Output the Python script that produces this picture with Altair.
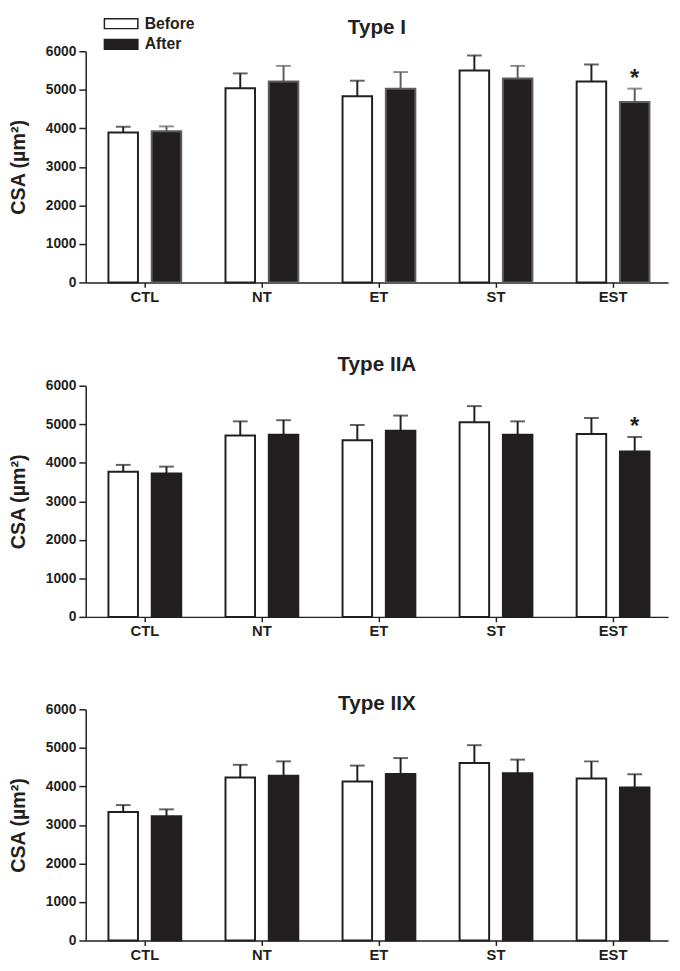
import altair as alt
import pandas as pd

groups = ["CTL", "NT", "ET", "ST", "EST"]
series = ["Before", "After"]
panel_titles = ["Type I", "Type IIA", "Type IIX"]

# Type I
typeI_before = [3890, 5040, 4830, 5500, 5215]
typeI_before_se = [150, 385, 405, 390, 440]
typeI_after = [3925, 5215, 5025, 5290, 4685]
typeI_after_se = [125, 405, 435, 330, 345]
typeI_sig = ["", "", "", "", "*"]

# Type IIA
typeIIA_before = [3765, 4705, 4585, 5050, 4745]
typeIIA_before_se = [180, 370, 395, 420, 415]
typeIIA_after = [3725, 4730, 4830, 4730, 4290]
typeIIA_after_se = [175, 375, 395, 345, 380]
typeIIA_sig = ["", "", "", "", "*"]

# Type IIX
typeIIX_before = [3335, 4230, 4130, 4610, 4205]
typeIIX_before_se = [180, 330, 410, 460, 445]
typeIIX_after = [3225, 4280, 4325, 4340, 3975]
typeIIX_after_se = [180, 370, 410, 355, 340]
typeIIX_sig = ["", "", "", "", ""]

panel_data = [
    (typeI_before, typeI_before_se, typeI_after, typeI_after_se, typeI_sig),
    (typeIIA_before, typeIIA_before_se, typeIIA_after, typeIIA_after_se, typeIIA_sig),
    (typeIIX_before, typeIIX_before_se, typeIIX_after, typeIIX_after_se, typeIIX_sig),
]

FONT = "Arial, Liberation Sans, sans-serif"
INK = "#231f20"


def make_df(b, bse, a, ase, sig):
    rows = []
    for i, g in enumerate(groups):
        rows.append(dict(group=g, series="Before", mean=b[i], upper=b[i] + bse[i], sig=""))
        rows.append(dict(group=g, series="After", mean=a[i], upper=a[i] + ase[i], sig=sig[i]))
    return pd.DataFrame(rows)


legend = alt.Legend(
    title=None,
    orient="none",
    legendX=28,
    legendY=-36,
    symbolType="M-3.4,-1H3.4V1H-3.4Z",
    symbolSize=100,
    symbolStrokeColor=INK,
    symbolStrokeWidth=1.5,
    labelFont=FONT,
    labelFontSize=16,
    labelFontWeight="bold",
    labelColor=INK,
    labelOffset=16,
    rowPadding=5,
    padding=0,
)


def panel(title, df, offset, after_stroke):
    x = alt.X(
        "group:N",
        sort=groups,
        scale=alt.Scale(paddingInner=0.378, paddingOuter=0.1765, align=0.55),
        axis=alt.Axis(
            title=None,
            labelAngle=0,
            labelFontSize=15,
            tickSize=5,
            labelPadding=2,
        ),
    )
    xo = alt.XOffset(
        "series:N", sort=series, scale=alt.Scale(paddingInner=0.318, paddingOuter=0)
    )
    yax = alt.Axis(
        title="CSA (µm²)",
        values=[0, 1000, 2000, 3000, 4000, 5000, 6000],
        format="d",
        labelFontSize=14,
        tickSize=7,
        labelPadding=3,
        titleFontSize=20,
        titlePadding=17,
    )
    yscale = alt.Scale(domain=[0, 6000], nice=False)
    line_color = alt.condition(
        alt.datum.series == "After", alt.value(after_stroke), alt.value(INK)
    )
    base = alt.Chart(df).encode(x=x, xOffset=xo)
    bars = base.mark_bar(strokeWidth=2).encode(
        y=alt.Y("mean:Q", scale=yscale, axis=yax, title="CSA (µm²)"),
        fill=alt.Fill(
            "series:N",
            sort=series,
            scale=alt.Scale(domain=series, range=["#ffffff", INK]),
            legend=legend,
        ),
        stroke=line_color,
    )
    rules = base.mark_rule(strokeWidth=2).encode(
        y=alt.Y("mean:Q", scale=yscale, axis=yax, title="CSA (µm²)"),
        y2="upper:Q",
        color=line_color,
    )
    caps = base.mark_tick(thickness=2, size=15, orient="horizontal").encode(
        y=alt.Y("upper:Q", scale=yscale, axis=yax, title="CSA (µm²)"),
        color=line_color,
    )
    stars = base.mark_text(
        font=FONT, fontSize=24, fontWeight="bold", color=INK, baseline="alphabetic", dy=-3
    ).encode(
        y=alt.Y("upper:Q", scale=yscale, axis=yax, title="CSA (µm²)"),
        text="sig:N",
    )
    return alt.layer(bars, rules, caps, stars).properties(
        width=592,
        height=235,
        title=alt.TitleParams(
            title,
            fontSize=21,
            fontWeight="bold",
            font=FONT,
            color=INK,
            anchor="middle",
            baseline="alphabetic",
            offset=offset,
        ),
    )


offsets = [-21, -13, -29]
after_strokes = ["#5e5e5e", INK, INK]
p1, p2, p3 = [
    panel(t, make_df(*d), o, s)
    for t, d, o, s in zip(panel_titles, panel_data, offsets, after_strokes)
]

chart = (
    alt.vconcat(alt.vconcat(p1, p2, spacing=51), p3, spacing=56)
    .properties(padding={"left": 0, "top": 0, "right": 4, "bottom": 0})
    .configure_view(stroke=None)
    .configure_axis(
        labelFont=FONT,
        titleFont=FONT,
        labelFontWeight="bold",
        titleFontWeight="bold",
        labelColor=INK,
        titleColor=INK,
        domainColor=INK,
        tickColor=INK,
        domainWidth=1.5,
        tickWidth=1.5,
        grid=False,
    )
)

chart.save("out.html", embed_options={"renderer": "svg", "actions": False})
